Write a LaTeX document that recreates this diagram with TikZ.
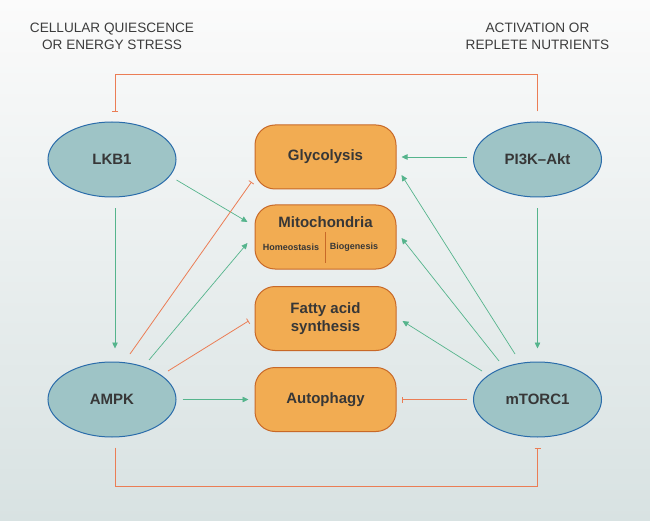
\documentclass[tikz,border=0pt]{standalone}
\usepackage{fontspec}
\setmainfont{Liberation Sans}
\usetikzlibrary{arrows.meta,shapes.geometric,calc}
\definecolor{bgtop}{RGB}{251,251,251}
\definecolor{bgbot}{RGB}{216,226,226}
\definecolor{ellfill}{RGB}{158,196,198}
\definecolor{elldraw}{RGB}{42,108,170}
\definecolor{boxfill}{RGB}{242,172,82}
\definecolor{boxdraw}{RGB}{200,105,40}
\definecolor{actc}{RGB}{85,180,140}
\definecolor{inhc}{RGB}{235,125,85}
\definecolor{txtc}{RGB}{55,55,55}
\definecolor{toptxt}{RGB}{60,60,60}
\begin{document}
\begin{tikzpicture}[x=1pt,y=-1pt,
  enz/.style={ellipse, draw=elldraw, fill=ellfill, line width=1pt,
    minimum width=128pt, minimum height=75pt, inner sep=0pt,
    font=\fontsize{15}{18}\selectfont\bfseries, text=txtc},
  proc/.style={rectangle, rounded corners=20pt, draw=boxdraw, fill=boxfill,
    line width=1pt, minimum width=141pt, minimum height=64pt, inner sep=0pt,
    font=\fontsize{15}{18}\selectfont\bfseries, text=txtc, align=center},
  sublab/.style={inner sep=0pt, font=\fontsize{9}{11}\selectfont\bfseries, text=txtc},
  toplab/.style={inner sep=0pt, align=center, text=toptxt,
    font=\fontsize{13.6}{17}\selectfont},
  act/.style={draw=actc, line width=0.7pt, -{Triangle[width=5.5pt,length=6pt]}},
  inh/.style={draw=inhc, line width=0.8pt, -{Bar[width=6pt]}}]

\shade[top color=bgtop, bottom color=bgbot] (0,0) rectangle (650,521);
\useasboundingbox (0,0) rectangle (650,521);

% top labels
\node[toplab] (t1) at (112,36.5) {CELLULAR QUIESCENCE\\OR ENERGY STRESS};
\node[toplab] (t2) at (537.5,36.5) {ACTIVATION OR\\REPLETE NUTRIENTS};

% enzymes
\node[enz] (lkb1) at (112,159.5) {LKB1};
\node[enz] (pi3k) at (537.5,159.5) {PI3K–Akt};
\node[enz] (ampk) at (112,399.5) {AMPK};
\node[enz] (mtor) at (537.5,399.5) {mTORC1};

% processes
\node[proc] (gly) at (325.5,157) {Glycolysis};
\node[proc] (mito) at (325.5,237) {};
\node[inner sep=0pt, font=\fontsize{15}{18}\selectfont\bfseries, text=txtc] (mitot) at (325.5,222) {Mitochondria};
\node[sublab] (homeo) at (291,247) {Homeostasis};
\node[sublab] (biog) at (354,247) {Biogenesis};
\draw[boxdraw, line width=1pt] (325,232) -- (325,263);
\node[proc] (fas) at (325.5,318.5) {Fatty acid\\synthesis};
\node[proc] (auto) at (325.5,399.5) {Autophagy};

% feedback loops
\draw[inh] ($(pi3k.north)+(0,-10)$) -- ++(0,-37) -| ($(lkb1.north)+(3,-10)$);
\draw[inh] ($(ampk.south)+(3,10)$) -- ++(0,39) -| ($(mtor.south)+(0,10)$);

% vertical
\draw[act] ($(lkb1.south)+(3,11)$) -- ($(ampk.north)+(3,-13)$);
\draw[act] ($(pi3k.south)+(0,11)$) -- ($(mtor.north)+(0,-13)$);

% horizontal
\draw[act] ($(pi3k.west)+(-6,-2.5)$) -- ($(gly.east)+(5,0)$);
\draw[act] ($(ampk.east)+(6,0)$) -- ($(auto.west)+(-6,0)$);
\draw[inh] ($(mtor.west)+(-6,0)$) -- ($(auto.east)+(5,0)$);

% diagonals from left
\draw[act] ($(lkb1.east)+(0,20.5)$) -- ($(mito.west)+(-7,-15)$);
\draw[inh] ($(ampk.center)+(18,-45.5)$) -- ($(gly.west)+(-3,25)$);
\draw[act] ($(ampk.center)+(37,-39.5)$) -- ($(mito.west)+(-7,6)$);
\draw[inh] ($(ampk.center)+(56,-28.5)$) -- ($(fas.west)+(-6,2.5)$);

% diagonals from right
\draw[act] ($(mtor.center)+(-22.5,-45.5)$) -- ($(gly.east)+(5,18)$);
\draw[act] ($(mtor.center)+(-38.5,-38.5)$) -- ($(mito.east)+(5,1)$);
\draw[act] ($(mtor.center)+(-55.5,-28.5)$) -- ($(fas.east)+(6,2.5)$);
\end{tikzpicture}
\end{document}
